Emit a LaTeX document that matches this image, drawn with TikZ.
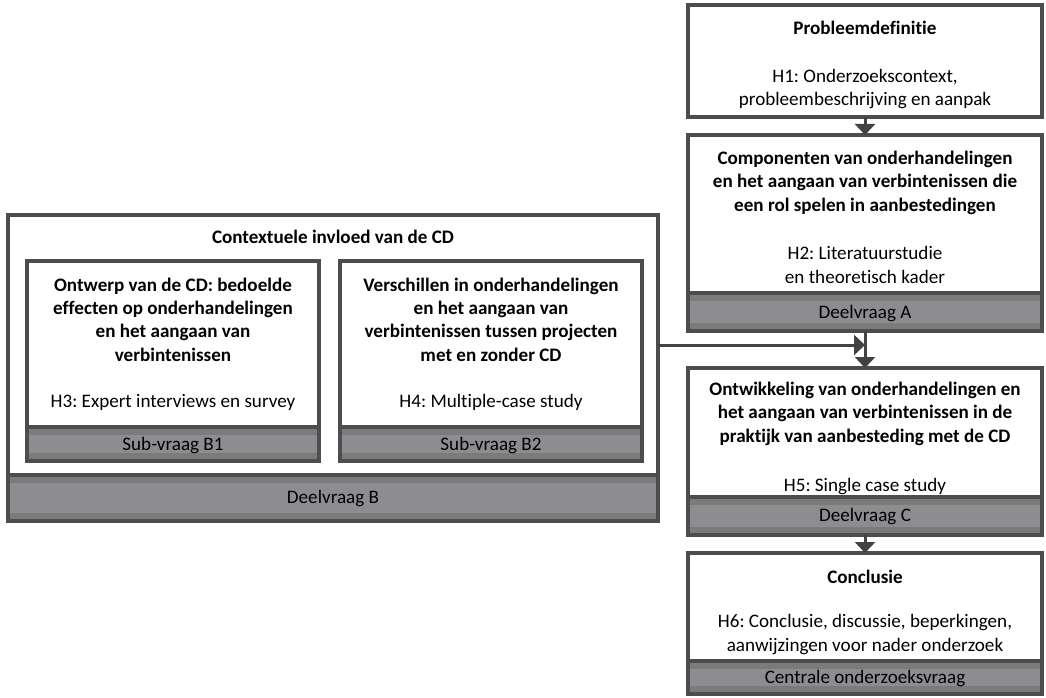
\documentclass[tikz,border=0pt]{standalone}
\usepackage{fontspec}
\setmainfont{Carlito}[Ligatures=NoCommon]
\usetikzlibrary{arrows.meta}
\definecolor{boxline}{HTML}{4D4D4D}
\definecolor{bardark}{HTML}{7B7B7B}
\definecolor{barlight}{HTML}{8D8D91}
\definecolor{arrowc}{HTML}{424242}
\newcommand\dvbar[4]{%
  \fill[bardark] (#1,#3) rectangle (#2,#4);
  \fill[barlight] (#1,#3+8) rectangle (#2,#4-8);
  \draw[line width=4pt, draw=boxline] (#1,#3) -- (#2,#3);}
\frenchspacing
\begin{document}
\begin{tikzpicture}[x=1pt,y=-1pt,
  box/.style={draw=boxline, line width=4pt, fill=white, inner sep=0pt, outer sep=0pt},
  frame/.style={draw=boxline, line width=4pt},
  txt/.style={font=\fontsize{19.1}{23.3}\selectfont\frenchspacing, align=center, inner sep=0pt, anchor=base},
  ttl/.style={txt, font=\fontsize{19.1}{23.3}\selectfont\frenchspacing\bfseries},
  lbl/.style={txt, text=black},
  arr/.style={draw=arrowc, line width=3pt, -{Triangle[length=11pt,width=20pt]}}]
\useasboundingbox (0,0) rectangle (1046,698);

% ---- left big box
\node[box, minimum width=650pt, minimum height=306pt] (big) at (333,368) {};
\dvbar{8}{658}{475}{521}
\draw[frame] (big.north west) rectangle (big.south east);
\node[ttl] (bigt) at (333,243) {Contextuele invloed van de CD};
\node[lbl] (bigl) at (333,503) {Deelvraag B};

% ---- B1
\node[box, minimum width=292pt, minimum height=200pt] (b1) at (173,361) {};
\dvbar{27}{319}{427}{461}
\draw[frame] (b1.north west) rectangle (b1.south east);
\node[ttl] (b1t) at (173,361) {Ontwerp van de CD: bedoelde\\effecten op onderhandelingen\\en het aangaan van\\verbintenissen};
\node[txt] (b1h) at (173,407) {H3: Expert interviews en survey};
\node[lbl] (b1l) at (173,450) {Sub-vraag B1};

% ---- B2
\node[box, minimum width=302pt, minimum height=200pt] (b2) at (491,361) {};
\dvbar{340}{642}{427}{461}
\draw[frame] (b2.north west) rectangle (b2.south east);
\node[ttl] (b2t) at (491,361) {Verschillen in onderhandelingen\\en het aangaan van\\verbintenissen tussen projecten\\met en zonder CD};
\node[txt] (b2h) at (491,407) {H4: Multiple-case study};
\node[lbl] (b2l) at (491,450) {Sub-vraag B2};

% ---- right column
\node[box, minimum width=354pt, minimum height=112pt] (p1) at (865,61) {};
\node[ttl] (p1t) at (865,35) {Probleemdefinitie};
\node[txt] (p1h) at (865,106) {H1: Onderzoekscontext,\\probleembeschrijving en aanpak};

\node[box, minimum width=354pt, minimum height=196pt] (p2) at (865,233) {};
\node[ttl] (p2t) at (865,211) {Componenten van onderhandelingen\\en het aangaan van verbintenissen die\\een rol spelen in aanbestedingen};
\node[txt] (p2h) at (865,283) {H2: Literatuurstudie\\en theoretisch kader};
\dvbar{688}{1042}{293}{331}
\draw[frame] (p2.north west) rectangle (p2.south east);
\node[lbl] (p2l) at (865,318) {Deelvraag A};

\node[box, minimum width=354pt, minimum height=167pt] (p3) at (865,451.5) {};
\node[ttl] (p3t) at (865,442) {Ontwikkeling van onderhandelingen en\\het aangaan van verbintenissen in de\\praktijk van aanbesteding met de CD};
\node[txt] (p3h) at (865,491) {H5: Single case study};
\dvbar{688}{1042}{497}{535}
\draw[frame] (p3.north west) rectangle (p3.south east);
\node[lbl] (p3l) at (865,521) {Deelvraag C};

\node[box, minimum width=354pt, minimum height=141pt] (p4) at (865,623.5) {};
\node[ttl] (p4t) at (865,583) {Conclusie};
\node[txt] (p4h) at (865,651) {H6: Conclusie, discussie, beperkingen,\\aanwijzingen voor nader onderzoek};
\dvbar{688}{1042}{661}{694}
\draw[frame] (p4.north west) rectangle (p4.south east);
\node[lbl] (p4l) at (865,683) {Centrale onderzoeksvraag};

% ---- connectors
\coordinate (hy) at (0,345);
\draw[arr] (p1.south) -- (p2.north);
\draw[arr] (p2.south) -- (p3.north);
\draw[arr] (p3.south) -- (p4.north);
\draw[arr] (big.east |- hy) -- (p2.south |- hy);
\end{tikzpicture}
\end{document}
